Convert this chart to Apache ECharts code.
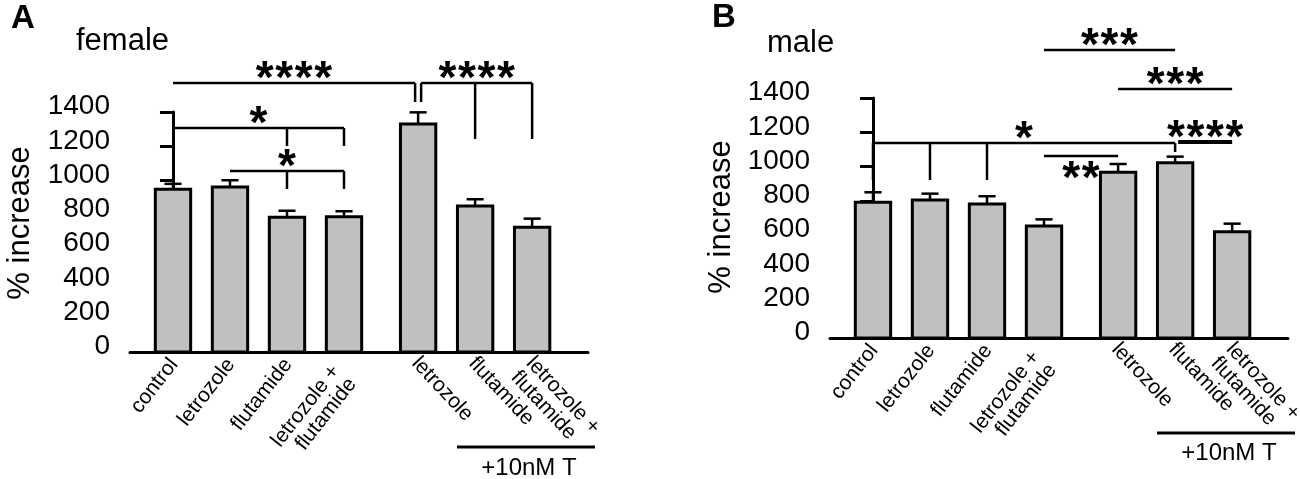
<!DOCTYPE html>
<html>
<head>
<meta charset="utf-8">
<script src="https://cdn.jsdelivr.net/npm/echarts@6/dist/echarts.min.js"></script>
<style>
  html, body { margin: 0; padding: 0; background: #fff; }
  #chart { width: 1300px; height: 479px; }
</style>
</head>
<body>
<div id="chart"></div>
<script>
// bar labels (first 4 untreated, last 3 with +10nM T)
var categories = ['control', 'letrozole', 'flutamide', 'letrozole +\nflutamide',
                  'letrozole', 'flutamide', 'letrozole +\nflutamide'];
var yTicks = [0, 200, 400, 600, 800, 1000, 1200, 1400];

var femaleMean = [949, 963, 786, 789, 1330, 852, 727];
var femaleSem  = [32, 39, 38, 32, 68, 39, 51];
var maleMean   = [792, 805, 782, 653, 967, 1023, 620];
var maleSem    = [58, 37, 45, 39, 48, 35, 47];

// significance brackets: bar index range, line height (% increase), drop lines [bar, down to]
var femaleSig = [
  { label: '****', from: 0, to: 4, y: 1569, drops: [[4, 1458]] },
  { label: '****', from: 4, to: 6, y: 1569, drops: [[4, 1458], [5, 1243], [6, 1243]] },
  { label: '*',    from: 0, to: 3, y: 1307, drops: [[2, 1202], [3, 1202]] },
  { label: '*',    from: 1, to: 3, y: 1056, drops: [[2, 951], [3, 951]] }
];
var maleSig = [
  { label: '***',  from: 3, to: 5, y: 1680, drops: [] },
  { label: '***',  from: 4, to: 6, y: 1453, drops: [] },
  { label: '****', from: 5, to: 6, y: 1143, drops: [], bold: true },
  { label: '*',    from: 0, to: 5, y: 1137, drops: [[0, 922], [1, 922], [2, 922], [5, 1085]] },
  { label: '**',   from: 3, to: 4, y: 1062, drops: [], below: true }
];

var GROUP_GAP = 0.3;   // extra space before the +T group
var X_MIN = -0.754, X_MAX = 7.28;
var BAR_W = 0.62, CAP_W = 0.3;
var FONT = '"Liberation Sans", Arial, Helvetica, sans-serif';

function xPos(i) {
  return i + (i >= 4 ? GROUP_GAP : 0);
}

var chart = echarts.init(document.getElementById('chart'));

function barItem(params, api) {
  var i = api.value(3);
  var x = api.value(0);
  var base = api.coord([x, 0]);
  var top = api.coord([x, api.value(1)]);
  var errTop = api.coord([x, api.value(1) + api.value(2)]);
  var w = api.size([BAR_W, 0])[0];
  var cap = api.size([CAP_W, 0])[0];
  var txt = categories[i];
  var two = txt.indexOf('\n') >= 0;
  var label;
  if (i < 4) {
    label = {
      type: 'text', x: base[0] + (two ? 0 : 1), y: base[1] + (two ? 22 : 9),
      rotation: 52 * Math.PI / 180,
      style: { text: txt, font: '21px ' + FONT, fill: '#000', align: 'right', verticalAlign: 'middle', lineHeight: 21 }
    };
  } else {
    label = {
      type: 'text', x: base[0] + (two ? -10 : -3), y: base[1] + (two ? 15 : 8),
      rotation: -47 * Math.PI / 180,
      style: { text: txt, font: '21px ' + FONT, fill: '#000', align: 'left', verticalAlign: 'middle', lineHeight: 21 }
    };
  }
  return {
    type: 'group',
    children: [
      { type: 'line', shape: { x1: top[0], y1: top[1], x2: errTop[0], y2: errTop[1] }, style: { stroke: '#000', lineWidth: 2.5 } },
      { type: 'line', shape: { x1: top[0] - cap / 2, y1: errTop[1], x2: top[0] + cap / 2, y2: errTop[1] }, style: { stroke: '#000', lineWidth: 2.5 } },
      { type: 'rect', shape: { x: base[0] - w / 2, y: top[1], width: w, height: base[1] - top[1] },
        style: { fill: '#c0c0c0', stroke: '#000', lineWidth: 3 } },
      label
    ]
  };
}

function sigRenderer(list) {
  return function (params, api) {
    var b = list[api.value(2)];
    var shareEnd = list.some(function (o) { return o !== b && o.from === b.to && o.drops.length; });
    var shareStart = list.some(function (o) { return o !== b && o.to === b.from && o.drops.length; });
    var p0 = api.coord([xPos(b.from), b.y]);
    var p1 = api.coord([xPos(b.to), b.y]);
    var x0 = p0[0] + (shareStart ? 3 : 0);
    var x1 = p1[0] - (shareEnd ? 3 : 0);
    var lw = b.bold ? 4 : 2.5;
    var kids = [
      { type: 'line', shape: { x1: x0, y1: p0[1], x2: x1, y2: p0[1] }, style: { stroke: '#000', lineWidth: lw } }
    ];
    b.drops.forEach(function (d) {
      var q = api.coord([xPos(d[0]), d[1]]);
      var dx = d[0] === b.from ? x0 : (d[0] === b.to ? x1 : q[0]);
      kids.push({ type: 'line', shape: { x1: dx, y1: p0[1], x2: dx, y2: q[1] }, style: { stroke: '#000', lineWidth: 2.5 } });
    });
    var n = b.label.length, step = 19.5;
    var cx = (x0 + x1) / 2;
    var cy = b.below ? p0[1] + 14 : p0[1] - 13;
    for (var k = 0; k < n; k++) {
      kids.push({
        type: 'text', x: cx + (k - (n - 1) / 2) * step, y: cy + 10.5,
        style: { text: '*', font: 'bold 46px ' + FONT, fill: '#000', align: 'center', verticalAlign: 'middle' }
      });
    }
    return { type: 'group', children: kids };
  };
}

function barData(mean, sem) {
  return mean.map(function (m, i) { return [xPos(i), m, sem[i], i]; });
}
function sigData(list) {
  return list.map(function (b, k) { return [xPos(b.from), b.y, k]; });
}

var axisBlack = { color: '#000', width: 3 };
function makeX(g) {
  return {
    gridIndex: g, type: 'value', min: X_MIN, max: X_MAX,
    axisLine: { show: true, lineStyle: axisBlack },
    axisTick: { show: false }, axisLabel: { show: false }, splitLine: { show: false }
  };
}
function makeY(g) {
  return {
    gridIndex: g, type: 'value', min: yTicks[0], max: yTicks[yTicks.length - 1],
    interval: yTicks[1] - yTicks[0],
    axisLine: { show: true, lineStyle: axisBlack },
    axisTick: { show: true, length: 13, lineStyle: axisBlack },
    axisLabel: {
      color: '#000', fontSize: 28, fontFamily: FONT, margin: 20,
      verticalAlign: 'bottom', lineHeight: 11,
      formatter: function (v) { return String(v); }
    },
    splitLine: { show: false }
  };
}

var option = {
  animation: false,
  backgroundColor: '#fff',
  grid: [
    { left: 130, top: 112, width: 458, height: 240 },
    { left: 830, top: 98, width: 458, height: 240 }
  ],
  xAxis: [makeX(0), makeX(1)],
  yAxis: [makeY(0), makeY(1)],
  series: [
    { type: 'custom', xAxisIndex: 0, yAxisIndex: 0, clip: false, renderItem: barItem,
      data: barData(femaleMean, femaleSem), encode: { x: 0, y: 1 } },
    { type: 'custom', xAxisIndex: 1, yAxisIndex: 1, clip: false, renderItem: barItem,
      data: barData(maleMean, maleSem), encode: { x: 0, y: 1 } },
    { type: 'custom', xAxisIndex: 0, yAxisIndex: 0, clip: false, renderItem: sigRenderer(femaleSig),
      data: sigData(femaleSig), encode: { x: 0, y: 1 } },
    { type: 'custom', xAxisIndex: 1, yAxisIndex: 1, clip: false, renderItem: sigRenderer(maleSig),
      data: sigData(maleSig), encode: { x: 0, y: 1 } }
  ],
  graphic: [
    { type: 'text', left: 11, top: 2, style: { text: 'A', font: 'bold 33px ' + FONT, fill: '#000' } },
    { type: 'text', left: 76, top: 26, style: { text: 'female', font: '31px ' + FONT, fill: '#000' } },
    { type: 'text', left: 712, top: 1, style: { text: 'B', font: 'bold 33px ' + FONT, fill: '#000' } },
    { type: 'text', left: 767, top: 28, style: { text: 'male', font: '31px ' + FONT, fill: '#000' } },
    { type: 'text', x: 20, y: 223, rotation: Math.PI / 2,
      style: { text: '% increase', font: '31px ' + FONT, fill: '#000', align: 'center', verticalAlign: 'middle' } },
    { type: 'text', x: 721, y: 217, rotation: Math.PI / 2,
      style: { text: '% increase', font: '31px ' + FONT, fill: '#000', align: 'center', verticalAlign: 'middle' } },
    { type: 'line', shape: { x1: 457, y1: 447, x2: 595, y2: 447 }, style: { stroke: '#000', lineWidth: 3 } },
    { type: 'text', x: 529, y: 468,
      style: { text: '+10nM T', font: '24px ' + FONT, fill: '#000', align: 'center', verticalAlign: 'middle' } },
    { type: 'line', shape: { x1: 1157, y1: 433, x2: 1295, y2: 433 }, style: { stroke: '#000', lineWidth: 3 } },
    { type: 'text', x: 1229, y: 453,
      style: { text: '+10nM T', font: '24px ' + FONT, fill: '#000', align: 'center', verticalAlign: 'middle' } }
  ]
};
chart.setOption(option);
</script>
</body>
</html>
